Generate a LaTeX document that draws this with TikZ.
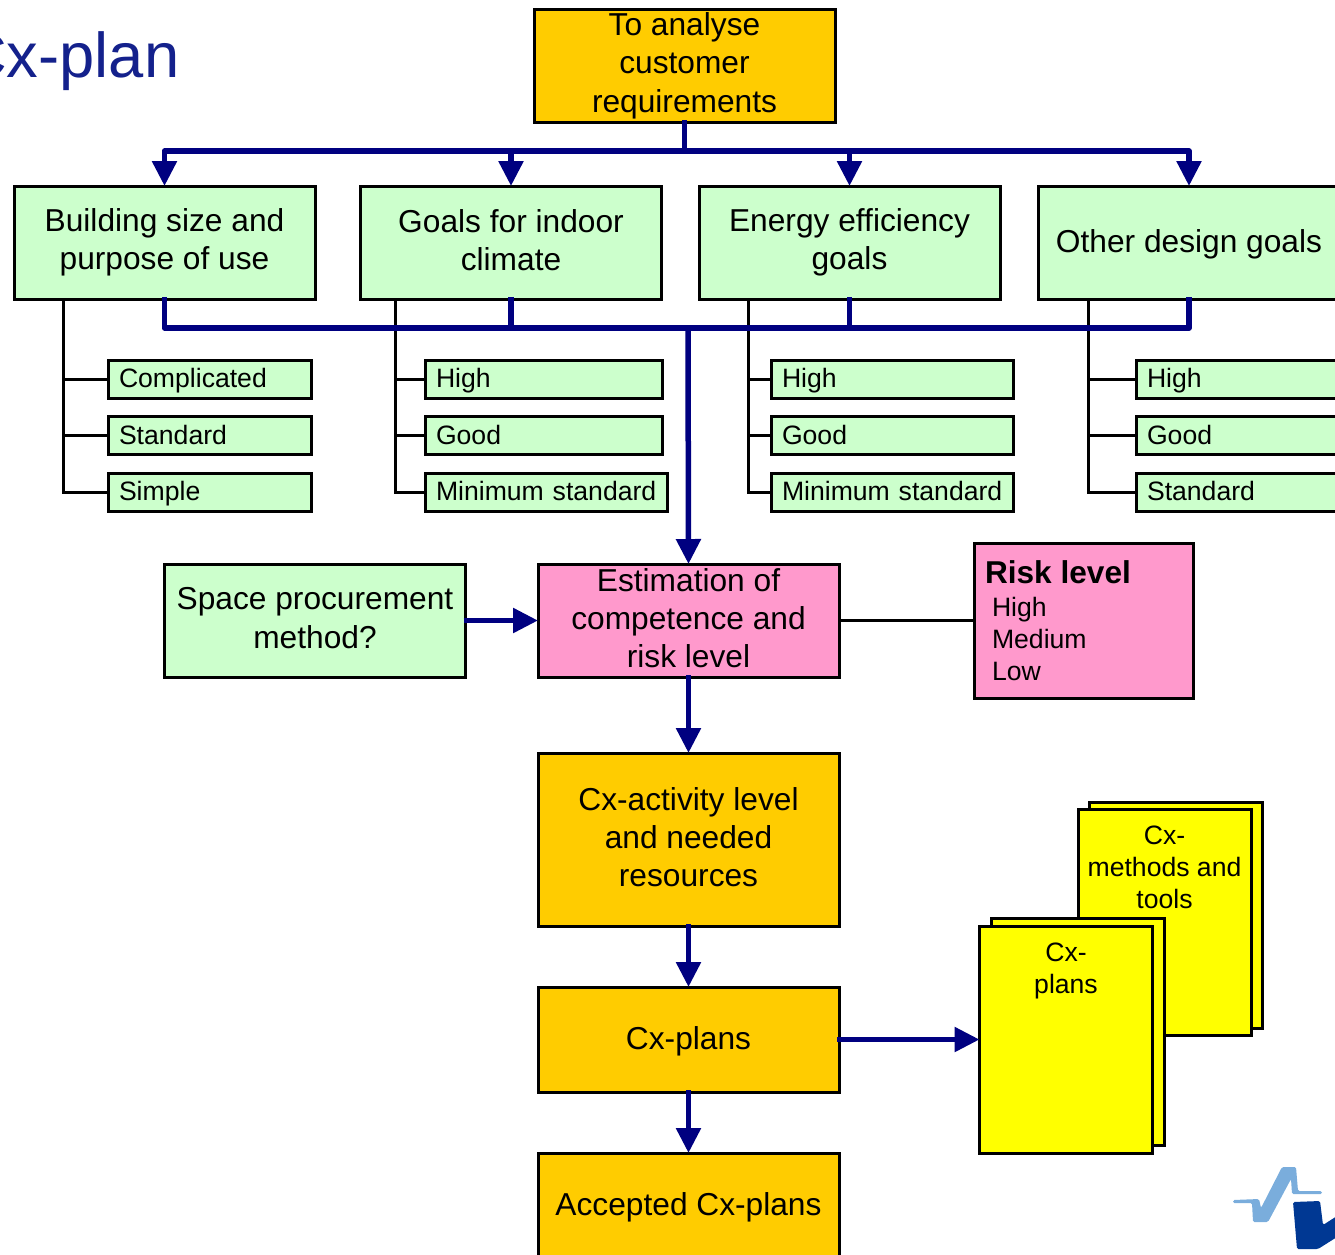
\documentclass[tikz,border=0pt]{standalone}
\usepackage{fontspec}
\setmainfont{Liberation Sans}
\usepackage{xcolor}
\usetikzlibrary{positioning,arrows.meta}

\definecolor{cxnavy}{HTML}{000080}
\definecolor{cxgreen}{HTML}{CCFFCC}
\definecolor{cxorange}{HTML}{FFCC00}
\definecolor{cxpink}{HTML}{FF99CC}
\definecolor{cxyellow}{HTML}{FFFF00}
\definecolor{cxtitle}{HTML}{14218C}
\definecolor{logolight}{HTML}{7AADDC}
\definecolor{logodark}{HTML}{003893}

\newcommand{\bigtext}{\fontsize{31.7}{38.3}\selectfont}
\newcommand{\midtext}{\fontsize{26.6}{32}\selectfont}
\newcommand{\boxstrut}{\rule[-5pt]{0pt}{31.5pt}}

\tikzset{
  box/.style={draw=black, line width=3pt, align=center, font=\bigtext, inner sep=0pt, outer sep=0pt,
    execute at begin node=\boxstrut, execute at end node=\boxstrut},
  goalbox/.style={box, fill=cxgreen, minimum width=301pt, minimum height=113pt},
  stepbox/.style={box, fill=cxorange, minimum width=301pt},
  optbox/.style={draw=black, line width=3pt, fill=cxgreen, anchor=west, font=\midtext, align=left, outer sep=0pt,
    inner xsep=11pt, inner ysep=0pt, minimum height=38pt, text height=21pt, text depth=4pt, text width=#1},
  page/.style={draw=black, line width=3pt, fill=cxyellow, outer sep=0pt, minimum width=173pt, minimum height=#1},
  pagetext/.style={align=center, font=\fontsize{26.6}{32}\selectfont, inner sep=0pt},
  flow/.style={draw=cxnavy, line width=5.5pt, line join=round, shorten <=-2pt},
  flowarrow/.style={flow, -{Triangle[width=24pt,length=25pt]}},
  treeline/.style={draw=black, line width=3pt}
}

\begin{document}
\begin{tikzpicture}[x=1pt, y=1pt, on grid]

\useasboundingbox (0,0) rectangle (1335,-1254);
\clip (0,0) rectangle (1335,-1254);

\node[anchor=base west, text=cxtitle, font=\fontsize{63.3}{70}\selectfont, inner sep=0pt] (title) at (-39,-77) {Cx-plan};

\node[stepbox, minimum height=113pt] (analyse) at (684.5,-65.5) {To analyse\\customer\\requirements};

\node[goalbox] (size) at (164.5,-242.5) {Building size and\\purpose of use};
\node[goalbox] (indoor) [right=346.5pt of size] {Goals for indoor\\climate};
\node[goalbox] (energy) [right=338.5pt of indoor] {Energy efficiency\\goals};
\node[goalbox] (other) [right=339.5pt of energy] {Other design goals};

\node[optbox=181pt] (complicated) at (108,-379) {Complicated};
\node[optbox=181pt] (standard) at (108,-435.5) {Standard};
\node[optbox=181pt] (simple) at (108,-492) {Simple};

\node[optbox=215pt] (high2) at (425,-379) {High};
\node[optbox=215pt] (good2) at (425,-435.5) {Good};
\node[optbox=220pt] (min2) at (425,-492) {\mbox{Minimum standard}};

\node[optbox=220pt] (high3) at (771,-379) {High};
\node[optbox=220pt] (good3) at (771,-435.5) {Good};
\node[optbox=220pt] (min3) at (771,-492) {\mbox{Minimum standard}};

\node[optbox=190pt] (high4) at (1136,-379) {High};
\node[optbox=190pt] (good4) at (1136,-435.5) {Good};
\node[optbox=190pt] (std4) at (1136,-492) {Standard};

\coordinate (trunk1) at (63,-299);
\coordinate (trunk2) at (395,-299);
\coordinate (trunk3) at (748,-299);
\coordinate (trunk4) at (1088,-299);

\draw[treeline] (trunk1) |- (complicated.west);
\draw[treeline] (trunk1) |- (standard.west);
\draw[treeline] (trunk1) |- (simple.west);

\draw[treeline] (trunk2) |- (high2.west);
\draw[treeline] (trunk2) |- (good2.west);
\draw[treeline] (trunk2) |- (min2.west);

\draw[treeline] (trunk3) |- (high3.west);
\draw[treeline] (trunk3) |- (good3.west);
\draw[treeline] (trunk3) |- (min3.west);

\draw[treeline] (trunk4) |- (high4.west);
\draw[treeline] (trunk4) |- (good4.west);
\draw[treeline] (trunk4) |- (std4.west);

\node[stepbox, fill=cxpink, minimum height=113pt] (estimate) at (688.5,-620.5) {Estimation of\\competence and\\risk level};
\node[goalbox] (space) [left=373.5pt of estimate] {Space procurement\\method?};
\node[draw=black, line width=3pt, fill=cxpink, outer sep=0pt, minimum width=219pt, minimum height=155pt, align=left, font=\midtext,
  inner sep=0pt, text width=197pt] (risk) at (1083.5,-620.5)
  {{\fontsize{31.6}{38}\selectfont\bfseries Risk level}\\[1pt]\hspace*{7pt}High\\\hspace*{7pt}Medium\\\hspace*{7pt}Low};

\node[stepbox, minimum height=173pt] (activity) [below=219pt of estimate] {Cx-activity level\\and needed\\resources};
\node[stepbox, minimum height=105pt] (plans) [below=200pt of activity] {Cx-plans};
\node[stepbox, minimum height=105pt] (accepted) [below=166pt of plans] {Accepted Cx-plans};

\node[page=226pt] (methodsback) at (1175.5,-915) {};
\node[page=226pt] (methods) at (1164.5,-922) {};
\node[pagetext, below=17pt of methods.north, anchor=north] (methodstext) {Cx-\\methods and\\tools};
\node[page=227pt] (cxplansback) at (1077.5,-1031.5) {};
\node[page=227pt] (cxplans) at (1066,-1039.5) {};
\node[pagetext, below=17pt of cxplans.north, anchor=north] (cxplanstext) {Cx-\\plans};

\coordinate (split) at (684.5,-151);
\coordinate (merge) at (688,-328);

\draw[flow] (analyse.south) -- (split);
\foreach \goal in {size,indoor,energy,other}
  \draw[flowarrow, shorten <=0pt] (split) -| (\goal.north);
\foreach \goal in {size,indoor,energy,other}
  \draw[flow] (\goal.south) |- (merge);

\draw[flowarrow, shorten <=0pt] (merge) -- (estimate.north);
\draw[flowarrow] (space.east) -- (estimate.west);
\draw[treeline] (estimate.east) -- (risk.west);
\draw[flowarrow] (estimate.south) -- (activity.north);
\draw[flowarrow] (activity.south) -- (plans.north);
\draw[flowarrow] (plans.south) -- (accepted.north);
\draw[flowarrow] (plans.east) -- (cxplans.west);

\fill[logolight, rounded corners=1.5pt] (1233,-1200) -- (1259,-1199) -- (1261,-1208) -- (1282,-1167) -- (1296,-1167)
  -- (1298,-1191) -- (1322,-1191) -- (1322,-1194) -- (1292,-1194) -- (1291,-1179) -- (1268,-1222) -- (1253,-1222)
  -- (1252,-1203) -- (1233,-1203) -- cycle;
\fill[logodark, rounded corners=1.5pt] (1293,-1202) -- (1320,-1201) -- (1323,-1225) -- (1337,-1216) -- (1337,-1237)
  -- (1318,-1249) -- (1297,-1249) -- cycle;

\end{tikzpicture}
\end{document}
